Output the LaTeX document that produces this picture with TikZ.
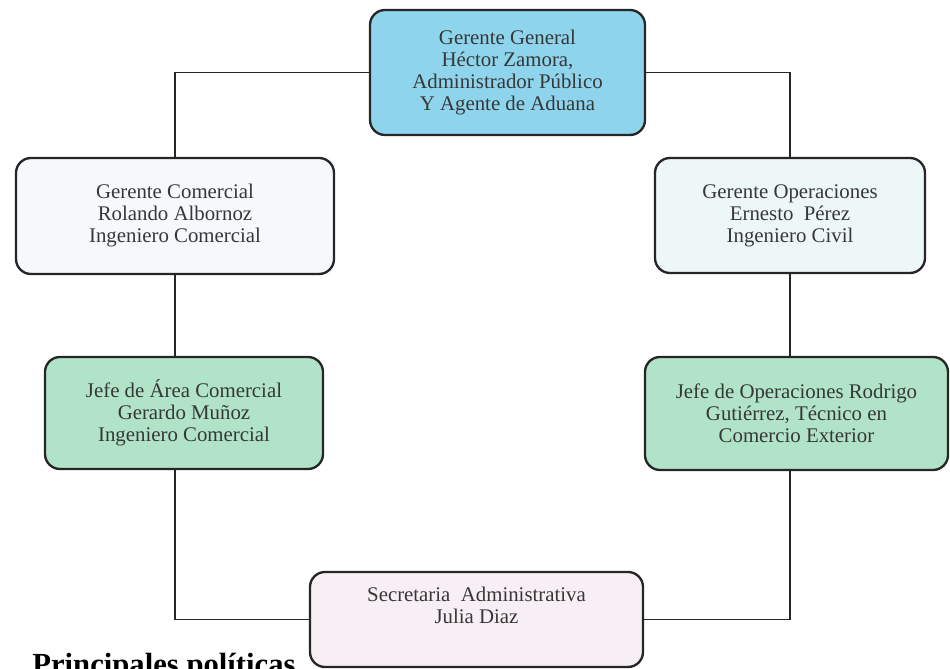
\documentclass[tikz,border=0pt]{standalone}
\usepackage{fontspec}
\setmainfont{Liberation Serif}
\usetikzlibrary{positioning}
\definecolor{azul}{RGB}{142,212,236}
\definecolor{verde}{RGB}{176,227,199}
\definecolor{blanco}{RGB}{245,249,251}
\definecolor{celeste}{RGB}{238,247,248}
\definecolor{rosa}{RGB}{248,239,245}
\definecolor{texto}{RGB}{55,55,55}
\tikzset{cargo/.style={draw=black!85, line width=1.4pt, rounded corners=9pt,
    align=center, text=texto, inner sep=2pt,
    font=\fontsize{12.5}{13.2}\selectfont}}
\tikzset{linea/.style={draw=black!85, line width=1.1pt}}

\begin{document}
\begin{tikzpicture}[x=0.6pt,y=-0.6pt]
\useasboundingbox (0,0) rectangle (950,669);

\node[cargo, fill=azul, minimum width=165pt, minimum height=75pt] (gg) at (507.5,72.5)
  {Gerente General\\H\'ector Zamora,\\Administrador P\'ublico\\Y Agente de Aduana};
\node[cargo, fill=blanco, minimum width=190.8pt, minimum height=69.6pt] (gc) at (175,216)
  {Gerente Comercial\\Rolando Albornoz\\Ingeniero Comercial};
\node[cargo, fill=celeste, minimum width=162pt, minimum height=69pt] (go) at (790,215.5)
  {Gerente Operaciones\\Ernesto\ \ P\'erez\\Ingeniero Civil};
\node[cargo, fill=verde, minimum width=166.8pt, minimum height=67.2pt] (jc) at (184,413)
  {Jefe de \'Area Comercial\\Gerardo Mu\~noz\\Ingeniero Comercial};
\node[cargo, fill=verde, minimum width=181.8pt, minimum height=67.8pt] (jo) at (796.5,413.5)
  {Jefe de Operaciones Rodrigo\\Guti\'errez, T\'ecnico en\\Comercio Exterior};
\node[cargo, fill=rosa, minimum width=199.8pt, minimum height=57pt, text depth=0pt] (sa) at (476.5,619.5)
  {Secretaria\ \ Administrativa\\Julia Diaz\\[3.5pt]};

\node[anchor=base west, inner sep=0pt, font=\fontsize{18.4}{20}\selectfont\bfseries] (pp) at (32,675)
  {Principales pol\'iticas};

% conectores
\draw[linea] (gg.west) -| (gc.north);
\draw[linea] (gg.east) -| (go.north);
\draw[linea] (gc.south) -- (gc.south |- jc.north);
\draw[linea] (go.south) -- (go.south |- jo.north);
\draw[linea] (gc.south |- jc.south) |- (sa.west);
\draw[linea] (go.south |- jo.south) |- (sa.east);

\end{tikzpicture}
\end{document}
